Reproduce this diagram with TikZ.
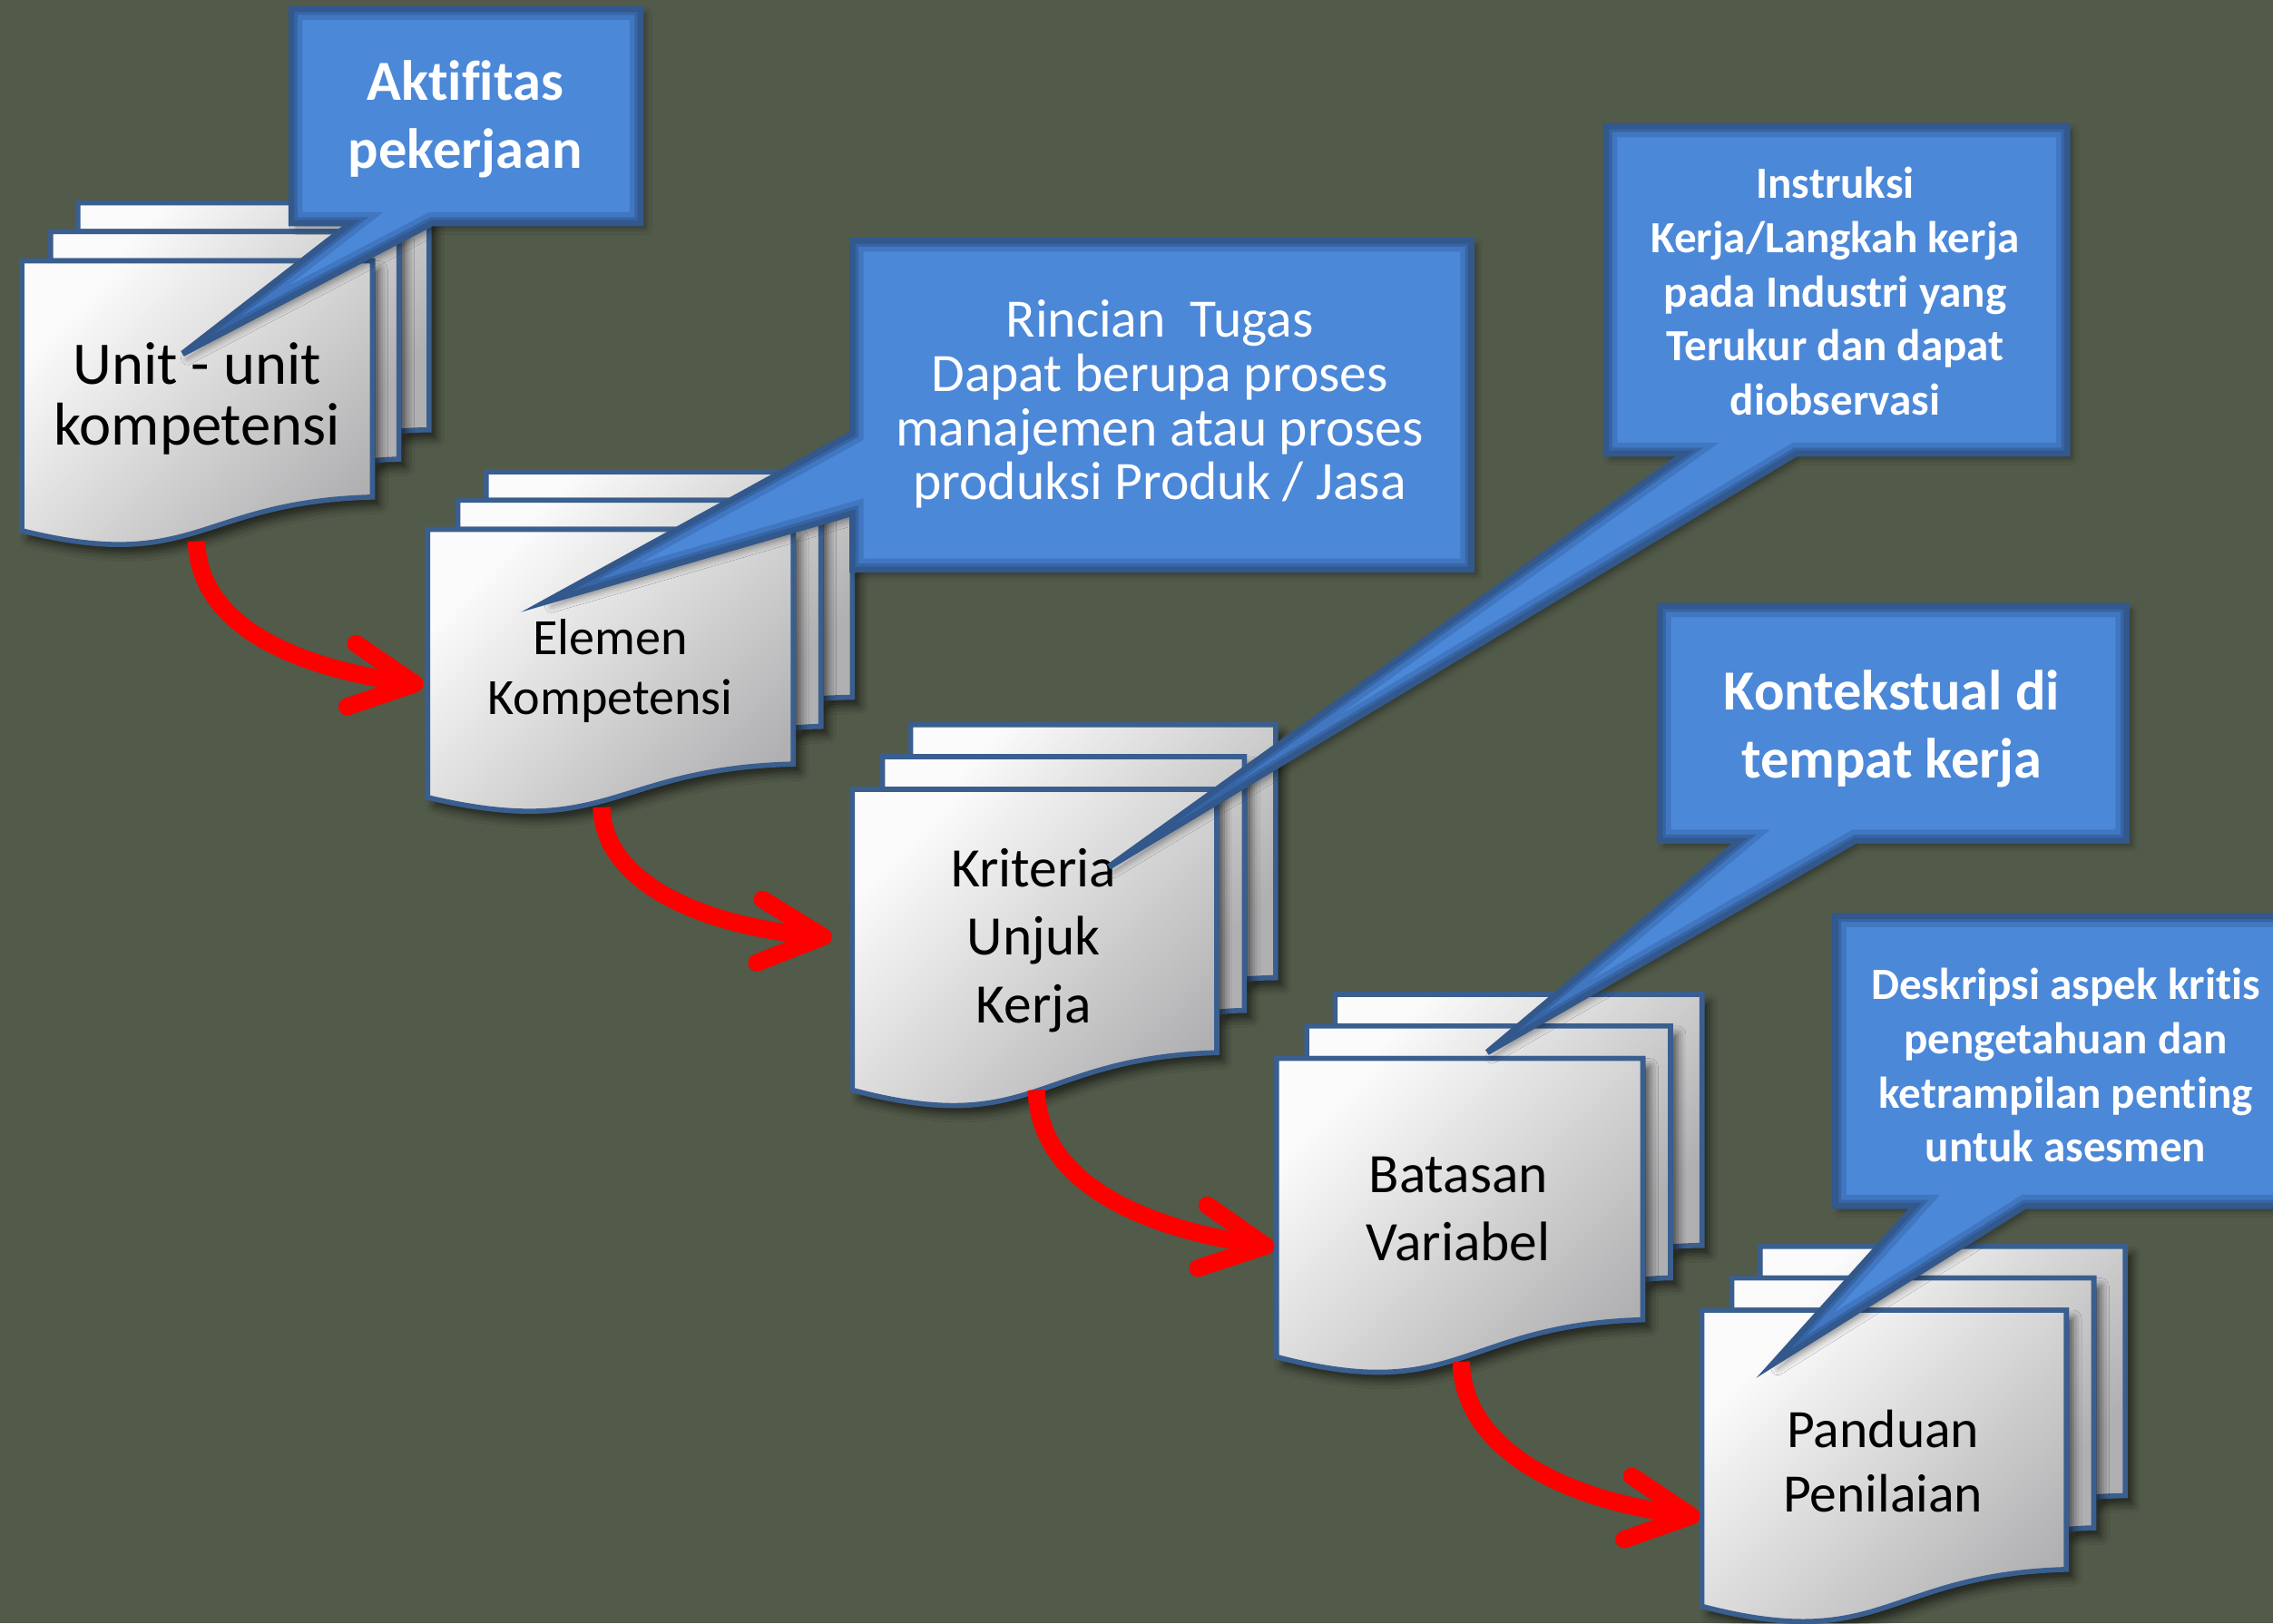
\documentclass[tikz,border=0pt]{standalone}
\usepackage{fontspec}
\setmainfont{Carlito}[Ligatures=CommonOff]
\usetikzlibrary{arrows.meta,shadows.blur}

\definecolor{bgolive}{RGB}{82,90,73}
\definecolor{pageedge}{RGB}{58,94,142}
\definecolor{pagelight}{RGB}{251,251,251}
\definecolor{pagedark}{RGB}{176,176,178}
\definecolor{callfill}{RGB}{76,136,216}
\definecolor{calledge}{RGB}{50,88,140}
\definecolor{callglow}{RGB}{30,60,110}
\definecolor{flowred}{RGB}{255,0,0}

\tikzset{
  pagesheet/.style={draw=pageedge, line width=1.6pt, line join=miter,
    top color=pagelight, bottom color=pagedark, shading angle=45,
    blur shadow={shadow xshift=2.2pt, shadow yshift=-2.6pt,
      shadow blur radius=2.6pt, shadow opacity=60}},
  pagelabel/.style={text=black, align=center, inner sep=0pt},
  notelabel/.style={text=white, align=center, inner sep=0pt},
  flowarrow/.style={draw=flowred, line width=5.5pt,
    -{Straight Barb[length=20pt, width=20pt, round]}},
}

% A stack of three sheets (multi-document flowchart symbol).
% #1,#2: top-left corner, #3: width, #4: height (picture units)
\newcommand\docstack[4]{%
  \pgfmathsetmacro\stkw{#3*0.016}%
  \pgfmathsetmacro\stkh{#4*0.016}%
  \begin{scope}[shift={(#1,#2)}, x=\stkw cm, y=-\stkh cm]
    \path[pagesheet] (0.1376,0.0840) -- (0.1376,0) -- (1,0) -- (1,0.6663)
      .. controls (0.9630,0.6663) and (0.9259,0.6698) .. (0.9259,0.6698)
      -- (0.9259,0.0840) -- cycle;
    \path[pagesheet] (0.0709,0.1701) -- (0.0709,0.0840) -- (0.9259,0.0840)
      -- (0.9259,0.7524)
      .. controls (0.8934,0.7524) and (0.8609,0.7570) .. (0.8609,0.7570)
      -- (0.8609,0.1701) -- cycle;
    \path[pagesheet] (0,0.9621)
      .. controls (0.4305,1.0899) and (0.4305,0.8777) .. (0.8609,0.8635)
      -- (0.8609,0.1701) -- (0,0.1701) -- cycle;
  \end{scope}}

% A speech-bubble callout given as one closed outline
\newcommand\noteshape[1]{%
  \fill[callfill, blur shadow={shadow xshift=1.5pt, shadow yshift=-1.5pt,
    shadow blur radius=2pt, shadow opacity=40}] #1;
  \begin{scope}
    \clip #1;
    \draw[callglow, line width=7pt, opacity=0.22, line join=miter] #1;
    \draw[callglow, line width=3.8pt, opacity=0.3, line join=miter] #1;
  \end{scope}
  \draw[calledge, line width=1.9pt, line join=miter] #1;
}

\begin{document}
\begin{tikzpicture}[x=0.016cm, y=-0.016cm]
  \useasboundingbox (0,0) rectangle (1568,1120);
  \fill[bgolive] (0,0) rectangle (1568,1120);

  % document stacks
  \docstack{15}{140}{281}{235}
  \docstack{295}{325.5}{293}{233.5}
  \docstack{588}{500}{292}{262}
  \docstack{880.6}{686}{293.5}{260}
  \docstack{1174}{860}{292}{258}

  % stack captions
  \node[pagelabel, font=\fontsize{19}{19}\selectfont] (p1) at (136,275)
    {Unit - unit\\kompetensi};
  \node[pagelabel, font=\fontsize{16}{19}\selectfont] (p2) at (421,463)
    {Elemen\\Kompetensi};
  \node[pagelabel, font=\fontsize{17.5}{21.3}\selectfont] (p3) at (713,649)
    {Kriteria\\Unjuk\\Kerja};
  \node[pagelabel, font=\fontsize{17.5}{21.3}\selectfont] (p4) at (1006,834)
    {Batasan\\Variabel};
  \node[pagelabel, font=\fontsize{17}{20.4}\selectfont] (p5) at (1299,1008)
    {Panduan\\Penilaian};

  % flow between the stacks
  \coordinate (s1out) at (135.6,373.5);
  \coordinate (s2in)  at (292,472.6);
  \coordinate (s2out) at (415,557);
  \coordinate (s3in)  at (573.8,646.8);
  \coordinate (s3out) at (715,752);
  \coordinate (s4in)  at (879,860.5);
  \coordinate (s4out) at (1008,939.5);
  \coordinate (s5in)  at (1172.6,1046.6);
  \draw[flowarrow] (s1out) .. controls +(1.5,56.5) and +(-92,-12.6) .. (s2in);
  \draw[flowarrow] (s2out) .. controls +(1.5,52) and +(-90,-8) .. (s3in);
  \draw[flowarrow] (s3out) .. controls +(1.5,62) and +(-95,-14) .. (s4in);
  \draw[flowarrow] (s4out) .. controls +(1.5,60) and +(-95,-12) .. (s5in);

  % callouts
  \noteshape{(201,6) -- (442,6) -- (442,154) -- (298,154) -- (126,244)
    -- (242,154) -- (201,154) -- cycle}
  \noteshape{(588,166) -- (1015,166) -- (1015,393) -- (588,393) -- (588,354)
    -- (377,415) -- (588,299) -- cycle}
  \noteshape{(1108,87) -- (1426,87) -- (1426,313) -- (1239,313) -- (765,598)
    -- (1162,313) -- (1108,313) -- cycle}
  \noteshape{(1145,418) -- (1467,418) -- (1467,580) -- (1280,580) -- (1026,726)
    -- (1200,580) -- (1145,580) -- cycle}
  \noteshape{(1266,632) -- (1590,632) -- (1590,832) -- (1397,832) -- (1223,941)
    -- (1321,832) -- (1266,832) -- cycle}

  % callout texts
  \node[notelabel, font=\bfseries\fontsize{17.8}{21.3}\selectfont] (n1) at (321,82)
    {Aktifitas\\pekerjaan};
  \node[notelabel, font=\fontsize{17}{17}\selectfont] (n2) at (800,279)
    {Rincian\ \ Tugas\\Dapat berupa proses\\manajemen atau proses\\produksi Produk / Jasa};
  \node[notelabel, font=\bfseries\fontsize{14}{17}\selectfont] (n3) at (1266,201)
    {Instruksi\\Kerja/Langkah kerja\\pada Industri yang\\Terukur dan dapat\\diobservasi};
  \node[notelabel, font=\bfseries\fontsize{17.8}{21.3}\selectfont] (n4) at (1305,503)
    {Kontekstual di\\tempat kerja};
  \node[notelabel, font=\bfseries\fontsize{14}{17}\selectfont] (n5) at (1425,735)
    {Deskripsi aspek kritis\\pengetahuan dan\\ketrampilan penting\\untuk asesmen};
\end{tikzpicture}
\end{document}
